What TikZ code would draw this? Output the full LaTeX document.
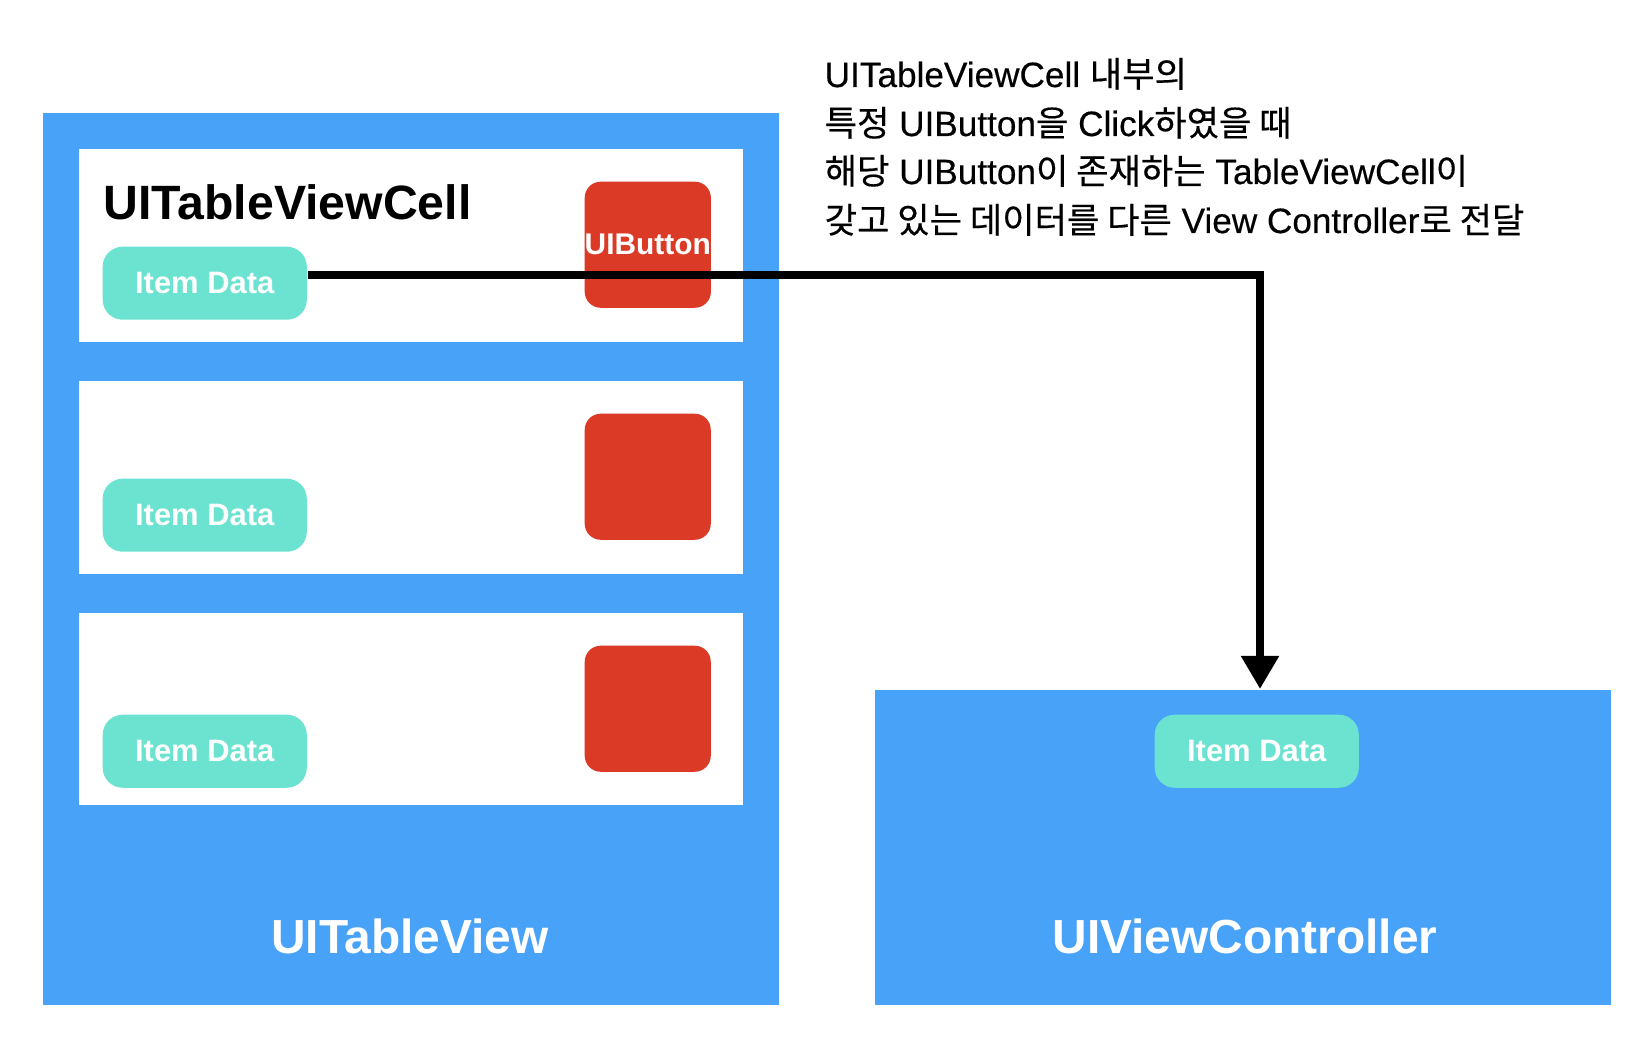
\documentclass[tikz,border=0pt]{standalone}
\usepackage{fontspec}
\setmainfont{Liberation Sans}
\newfontfamily\kr[FakeBold=0.4]{Noto Sans CJK KR}
\newfontfamily\notefont[FakeBold=0.4]{Liberation Sans}
\usetikzlibrary{arrows.meta}
\definecolor{viewblue}{RGB}{71,162,248}
\definecolor{itemteal}{RGB}{108,227,208}
\definecolor{buttonred}{RGB}{219,59,38}

\tikzset{
    view/.style={fill=viewblue, inner sep=0pt, anchor=north west},
    cellbox/.style={fill=white, inner sep=0pt, anchor=north west, minimum width=6.64cm, minimum height=1.93cm},
    button/.style={fill=buttonred, rounded corners=0.16cm, inner sep=0pt, anchor=north west, minimum size=1.26cm,
        text=white, font=\bfseries\fontsize{8.5pt}{10pt}\selectfont},
    item/.style={fill=itemteal, rounded corners=0.2cm, inner sep=0pt, anchor=north west, minimum width=2.04cm,
        minimum height=0.73cm, text=white, font=\bfseries\fontsize{8.8pt}{10pt}\selectfont},
    biglabel/.style={text=white, inner sep=0pt, anchor=base, font=\bfseries\fontsize{13.6pt}{15pt}\selectfont},
    note/.style={inner sep=0pt, anchor=base west, font=\notefont\fontsize{10pt}{12pt}\selectfont},
    flow/.style={line width=0.08cm, miter limit=4, -{Triangle[length=0.33cm, width=0.36cm]}}
}

\begin{document}
\begin{tikzpicture}[x=0.01cm, y=-0.01cm]
        \useasboundingbox (0,0) rectangle (1652,1040);

        % Nodes
        \node (tableview) [view, minimum width=7.36cm, minimum height=8.92cm] at (42,112) {};
        \node (vc) [view, minimum width=7.36cm, minimum height=3.15cm] at (874,689) {};

        \node (cell1) [cellbox] at (78,148) {};
        \node (cell2) [cellbox] at (78,380) {};
        \node (cell3) [cellbox, minimum height=1.92cm] at (78,612) {};

        \node (button1) [button] at (584,181) {UIButton};
        \node (button2) [button] at (584,413) {};
        \node (button3) [button] at (584,645) {};

        \node (item1) [item] at (102,246) {Item Data};
        \node (item2) [item] at (102,478) {Item Data};
        \node (item3) [item] at (102,714) {Item Data};
        \node (item4) [item] at (1154,714) {Item Data};

        \node (celllabel) [inner sep=0pt, anchor=base west, font=\bfseries\fontsize{13.7pt}{15pt}\selectfont] at (103,220) {UITableViewCell};
        \node (tableviewlabel) [biglabel] at (410,953) {UITableView};
        \node (vclabel) [biglabel] at (1245,953) {UIViewController};

        \node (note1) [note] at (824,87) {UITableViewCell {\kr 내부의}};
        \node (note2) [note] at (824,136) {{\kr 특정} UIButton{\kr 을} Click{\kr 하였을 때}};
        \node (note3) [note] at (824,184) {{\kr 해당} UIButton{\kr 이 존재하는} TableViewCell{\kr 이}};
        \node (note4) [note] at (824,233) {{\kr 갖고 있는 데이터를 다른} View Controller{\kr 로 전달}};

        % Arrows
        \coordinate (bend) at (1260,275);
        \draw [flow] (item1.east |- bend) -- (bend) -- (vc.north -| bend);
    \end{tikzpicture}
\end{document}
